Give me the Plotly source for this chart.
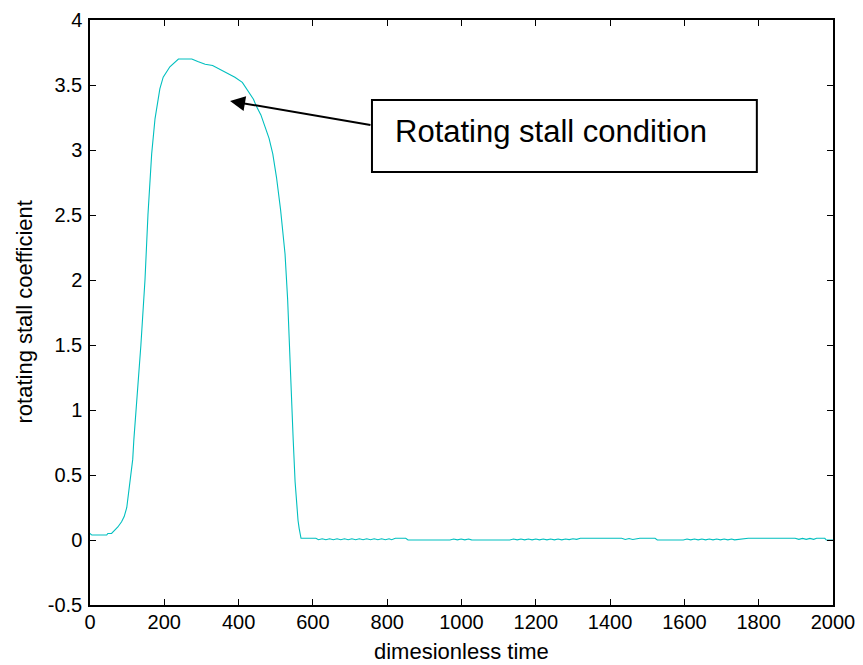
import plotly.graph_objects as go

# ---- data ----
rise_t = [0, 5, 45, 48, 58, 67, 75, 85, 92, 99, 108, 115, 118, 126, 137, 148, 156, 166, 175, 188,
          197, 215, 238, 250, 274, 290, 310, 330, 350, 370, 390, 410, 426, 440, 449, 460, 471, 482,
          492, 502, 513, 525, 532, 540, 547, 552, 556, 560, 563, 566, 568]
rise_v = [0.05, 0.038, 0.038, 0.05, 0.05, 0.077, 0.10, 0.14, 0.18, 0.25, 0.44, 0.62, 0.77, 1.05, 1.5,
          2.0, 2.5, 2.97, 3.24, 3.47, 3.56, 3.64, 3.70, 3.70, 3.70, 3.68, 3.66, 3.65, 3.62, 3.59,
          3.56, 3.52, 3.45, 3.39, 3.33, 3.27, 3.18, 3.09, 2.97, 2.79, 2.54, 2.2, 1.85, 1.2, 0.77,
          0.45, 0.25, 0.15, 0.09, 0.04, 0.013]

tail_t = [570, 608, 615, 625, 635, 645, 655, 665, 675, 685, 695, 705, 715, 725, 735, 745, 755, 765,
          775, 785, 795, 805, 812, 822, 850, 856, 969, 979, 989, 999, 1009, 1019, 1027, 1130, 1140,
          1150, 1160, 1170, 1180, 1190, 1200, 1210, 1220, 1230, 1240, 1250, 1260, 1270, 1280, 1290,
          1300, 1310, 1320, 1431, 1441, 1451, 1461, 1471, 1480, 1521, 1527, 1597, 1607, 1617, 1627,
          1637, 1647, 1657, 1667, 1677, 1687, 1697, 1707, 1717, 1727, 1735, 1755, 1765, 1772, 1898,
          1908, 1918, 1928, 1938, 1948, 1956, 1978, 1982, 2000]
tail_v = [0.013, 0.013, 0.002, 0.009, 0.002, 0.009, 0.002, 0.009, 0.002, 0.009, 0.002, 0.009, 0.002,
          0.009, 0.002, 0.009, 0.002, 0.009, 0.002, 0.009, 0.002, 0.009, 0.002, 0.013, 0.013, 0.0,
          0.0, 0.008, 0.001, 0.008, 0.001, 0.008, 0.001, 0.0, 0.008, 0.001, 0.008, 0.001, 0.008,
          0.001, 0.008, 0.001, 0.008, 0.001, 0.008, 0.001, 0.008, 0.001, 0.008, 0.003, 0.010, 0.005,
          0.013, 0.013, 0.004, 0.011, 0.004, 0.011, 0.013, 0.013, 0.0, 0.0, 0.008, 0.001, 0.008,
          0.001, 0.008, 0.001, 0.008, 0.001, 0.008, 0.001, 0.008, 0.001, 0.008, 0.001, 0.006, 0.006,
          0.013, 0.013, 0.005, 0.012, 0.005, 0.012, 0.005, 0.013, 0.013, 0.0, 0.0]

x_ticks = [0, 200, 400, 600, 800, 1000, 1200, 1400, 1600, 1800, 2000]
x_ticktext = ["0", "200", "400", "600", "800", "1000", "1200", "1400", "1600", "1800", "2000"]
y_ticks = [-0.5, 0, 0.5, 1, 1.5, 2, 2.5, 3, 3.5, 4]
y_ticktext = ["-0.5", "0", "0.5", "1", "1.5", "2", "2.5", "3", "3.5", "4"]

x_title = "dimesionless time"
y_title = "rotating stall coefficient"
label_text = "Rotating stall condition"

t = rise_t + tail_t
v = rise_v + tail_v

FONT = "Liberation Sans, Arial, sans-serif"

fig = go.Figure()
fig.add_trace(go.Scatter(x=t, y=v, mode="lines",
                         line=dict(color="#00BFBF", width=1.1), showlegend=False,
                         hoverinfo="skip"))

axis_common = dict(showgrid=False, zeroline=False, showline=True, linecolor="black",
                   linewidth=1.5, mirror="ticks", ticks="inside", ticklen=6, tickwidth=1,
                   tickcolor="black", automargin=False,
                   tickfont=dict(family=FONT, size=20, color="black"))

fig.update_xaxes(range=[0, 2000], tickvals=x_ticks, ticktext=x_ticktext,
                 ticklabelstandoff=-2, **axis_common)
fig.update_yaxes(range=[-0.5, 4], tickvals=y_ticks, ticktext=y_ticktext,
                 ticklabelstandoff=2, **axis_common)

# axis titles
fig.add_annotation(x=0.5, y=0, xref="paper", yref="paper", text=x_title, showarrow=False,
                   xanchor="center", yanchor="middle", yshift=-46,
                   font=dict(family=FONT, size=22, color="black"))
fig.add_annotation(x=0, y=0.5, xref="paper", yref="paper", text=y_title, showarrow=False,
                   xanchor="center", yanchor="middle", xshift=-66, textangle=-90,
                   font=dict(family=FONT, size=22, color="black"))

# text box
fig.add_shape(type="rect", xref="x", yref="y", x0=759, x1=1795, y0=2.83, y1=3.385,
              line=dict(color="black", width=2), fillcolor="white", layer="above")
fig.add_annotation(x=816, y=3.14, xref="x", yref="y", text=label_text, showarrow=False,
                   xanchor="left", yanchor="middle",
                   font=dict(family=FONT, size=31, color="black"))
# arrow
fig.add_annotation(x=377, y=3.377, ax=759, ay=3.19, xref="x", yref="y", axref="x", ayref="y",
                   text="", showarrow=True, arrowhead=2, arrowsize=1.5, arrowwidth=2,
                   arrowcolor="black")

fig.update_layout(width=863, height=665, margin=dict(l=90, r=30, t=20, b=60),
                  paper_bgcolor="white", plot_bgcolor="white",
                  font=dict(family=FONT, color="black"))

fig.write_html("out.html")
